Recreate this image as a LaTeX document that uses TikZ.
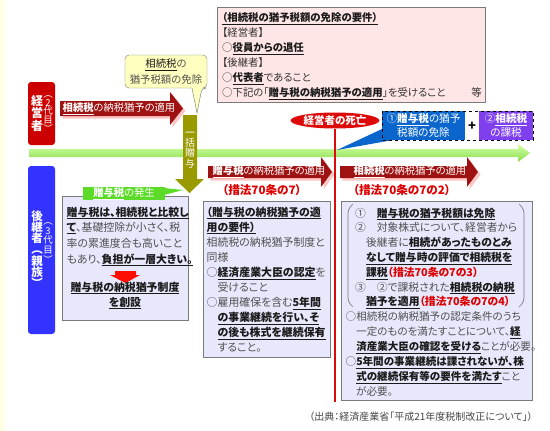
\documentclass[tikz,border=0pt]{standalone}
\usepackage{fontspec}
\setmainfont{Noto Sans CJK JP}[CharacterWidth=AlternateProportional]
\usetikzlibrary{shapes.geometric}
\definecolor{stripyellow}{HTML}{FFFFE4}
\definecolor{txtgray}{HTML}{505050}
\definecolor{darktxt}{HTML}{333333}
\definecolor{keyblack}{HTML}{1A1A1A}
\definecolor{boxlav}{HTML}{E8E8FC}
\definecolor{boxedge}{HTML}{7A7A7A}
\definecolor{pinkbox}{HTML}{FFE6E6}
\definecolor{calloutyellow}{HTML}{FFFFC0}
\definecolor{bossred}{HTML}{CC0000}
\definecolor{heirblue}{HTML}{3333FF}
\definecolor{bandred}{HTML}{9E1212}
\definecolor{shadowpink}{HTML}{FFC4C4}
\definecolor{lumpolive}{HTML}{999900}
\definecolor{axislight}{HTML}{D4FFA8}
\definecolor{axisgreen}{HTML}{88DD4C}
\definecolor{taggreen}{HTML}{5CDC28}
\definecolor{exemptblue}{HTML}{0A66CC}
\definecolor{taxpurple}{HTML}{7F3FEF}
\definecolor{deathred}{HTML}{DD0A0A}
\definecolor{notered}{HTML}{DD0000}
\definecolor{srcgray}{HTML}{444444}
\newcommand\keyt[1]{{\color{keyblack}\underline{\textbf{#1}}}}
\newcommand\keyw[1]{\underline{\textbf{#1}}}
\newcommand\uk[1]{{\color{keyblack}\underline{#1}}}
\newcommand\notered[1]{{\color{notered}\textbf{#1}}}
\begin{document}
\begin{tikzpicture}[x=1pt, y=-1pt,
    txt/.style={anchor=north west, inner sep=0pt, align=left, text=txtgray,
                font=\fontsize{10.9}{15.05}\selectfont},
    infobox/.style={draw=boxedge, fill=boxlav, line width=0.7pt},
    vtext/.style={inner sep=0pt, align=center, text=white,
                  execute at begin node={\lineskiplimit=-20pt}},
    bandtext/.style={text=white, inner sep=0pt, font=\fontsize{10.3}{12}\selectfont},
    lawnote/.style={text=notered, inner sep=0pt, font=\bfseries\fontsize{11.6}{13}\selectfont},
    whitetag/.style={text=white, inner sep=0pt, align=center}
  ]
  \useasboundingbox (0,0) rectangle (550,431);
  \fill[stripyellow] (0,0) rectangle (5,431);

  % requirements for the exemption
  \draw[draw=boxedge, fill=pinkbox, line width=0.7pt] (217,7) rectangle (485,102);
  \node[txt, text=darktxt, font=\fontsize{10.4}{15}\selectfont] (reqtext) at (222,12.8) {
    \keyt{（相続税の猶予税額の免除の要件）}\\
    【経営者】\\
    ○\keyt{役員からの退任}\\
    【後継者】\\
    ○\keyt{代表者}であること\\
    ○下記の「\keyt{贈与税の納税猶予の適用}」を受けること};
  \node[anchor=east, inner sep=0pt, text=darktxt, font=\fontsize{10.4}{15}\selectfont]
    (reqetc) at (482,93) {等};

  % callout over the lump-sum gift
  \draw[draw=boxedge, fill=calloutyellow, rounded corners=4pt]
    (125,55) -- (207,55) -- (207,88) -- (202,88) [sharp corners] -- (197,113)
    -- (192,88) [rounded corners=4pt] -- (125,88) -- cycle;
  \node[whitetag, text=txtgray, font=\fontsize{10.4}{15.5}\selectfont] (relief) at (166,71.5)
    {\uk{相続税}の\\猶予税額の免除};

  % side labels
  \fill[bossred, rounded corners=3pt] (28,82) rectangle (55,145);
  \fill[heirblue, rounded corners=3pt] (28,166) rectangle (55,334);
  \node[vtext, font=\bfseries\fontsize{12}{12.5}\selectfont] (bosslbl) at (37,113) {経\\営\\者};
  \node[vtext, font=\fontsize{9.5}{8.6}\selectfont] (bossgen) at (48,114) {︵\\2\\代\\目\\︶};
  \node[vtext, font=\bfseries\fontsize{11.5}{11.2}\selectfont] (heirlbl) at (37,249)
    {後\\継\\者\\︵\\親\\族\\︶};
  \node[vtext, font=\fontsize{9.5}{9.6}\selectfont] (heirgen) at (48,243) {︵\\3\\代\\目\\︶};

  % time axis
  \shade[top color=axislight, bottom color=axisgreen]
    (29,149) -- (518,149) -- (518,144) -- (530,153) -- (518,162) -- (518,157) -- (29,157) -- cycle;

  % band arrows with shadow
  \foreach \xa/\xb/\xt/\ym/\bh/\hh in {60/170/183/108.5/7.5/16.5, 208/321/332/172/6/15,
                                       340/467/478/172/6/15} {
    \foreach \dx/\col in {2.5/shadowpink, 0/bandred}
      \fill[\col, shift={(\dx,\dx)}] (\xa,\ym-\bh) -- (\xb,\ym-\bh) -- (\xb,\ym-\hh) -- (\xt,\ym)
        -- (\xb,\ym+\hh) -- (\xb,\ym+\bh) -- (\xa,\ym+\bh) -- cycle;
  }
  \node[bandtext] (band1) at (119,108.5) {\keyw{相続税}の納税猶予の適用};
  \node[bandtext] (band2) at (269,172) {\keyw{贈与税}の納税猶予の適用};
  \node[bandtext] (band3) at (410,172) {\keyw{相続税}の納税猶予の適用};
  \node[lawnote] (law7) at (262,190) {（措法70条の7）};
  \node[lawnote] (law72) at (402,190) {（措法70条の7の2）};

  % lump-sum gift
  \fill[lumpolive] (183,115) -- (197,115) -- (197,179) -- (204,179) -- (189.5,193)
    -- (175,179) -- (183,179) -- cycle;
  \node[vtext, font=\fontsize{10}{10.2}\selectfont] (lump) at (190,150) {一\\括\\贈\\与};

  % gift tax box
  \draw[infobox] (62,196) rectangle (188,320);
  \fill[taggreen] (83,187) rectangle (165,200);
  \fill[taggreen] (164,188) -- (183,190) -- (164,195) -- cycle;
  \node[whitetag, font=\fontsize{10.3}{12}\selectfont] (giftrise) at (124,193.5) {\keyw{贈与税}の発生};
  \node[txt, font=\fontsize{10.9}{15.7}\selectfont] (gifttext) at (66.5,206.5) {
    \keyt{贈与税は、相続税と比較し}\\
    \keyt{て}、基礎控除が小さく、税\\
    率の累進度合も高いこと\\
    もあり、\keyt{負担が一層大きい。}};
  \fill[red!90!orange] (115,271) -- (136,271) -- (136,275) -- (140,275) -- (125.5,283)
    -- (110,275) -- (115,275) -- cycle;
  \node[whitetag, text=keyblack, font=\fontsize{10.9}{15}\selectfont] (newsystem) at (125,295.5)
    {\keyt{贈与税の納税猶予制度}\\\keyt{を創設}};

  % gift tax deferral requirements
  \draw[infobox] (203,201) rectangle (330,357);
  \node[txt] (giftreq) at (206.5,206.5) {
    \keyt{（贈与税の納税猶予の適}\\
    \keyt{用の要件）}\\
    相続税の納税猶予制度と\\
    同様\\
    ○\keyt{経済産業大臣の認定}を\\
    \phantom{○}受けること\\
    ○雇用確保を含む\keyt{5年間}\\
    \phantom{○}\keyt{の事業継続を行い、そ}\\
    \phantom{○}\keyt{の後も株式を継続保有}\\
    \phantom{○}すること。};

  % death of the manager
  \node[ellipse, fill=deathred, minimum width=80pt, minimum height=16pt, inner sep=0pt,
        text=white, font=\bfseries\fontsize{10.5}{12}\selectfont] (death) at (335,120.5) {経営者の死亡};
  \coordinate (deathend) at (335,402);
  \draw[deathred, line width=2.8pt] (death.south) -- (deathend);
  \fill[exemptblue] (382,111) rectangle (465,140);
  \fill[exemptblue] (382,129) -- (337,150) -- (393,140) -- cycle;
  \fill[taxpurple] (479,111) rectangle (533,140);
  \draw[dashed, line width=0.8pt] (382,111) rectangle (533,140);
  \node[whitetag, font=\fontsize{10.6}{13.5}\selectfont] (exempt) at (423.5,125.5)
    {①\keyw{贈与税}の猶予\\税額の免除};
  \node[inner sep=0pt, font=\bfseries\fontsize{13}{13}\selectfont] (plus) at (472,126) {+};
  \node[whitetag, font=\fontsize{10.6}{13.5}\selectfont] (inhtax) at (506,125.5)
    {②\keyw{相続税}\\の課税};

  % inheritance tax deferral
  \draw[infobox] (341,201) rectangle (532,400);
  \draw[boxedge, line width=0.7pt, rounded corners=4pt] (353,204) -- (348,209) -- (348,302) -- (353,307);
  \draw[boxedge, line width=0.7pt, rounded corners=4pt] (519,204) -- (524,209) -- (524,302) -- (519,307);
  \node[txt, font=\fontsize{10.8}{14.83}\selectfont] (heiritems) at (355,207.5) {
    ①\hspace{1em}\keyt{贈与税の猶予税額は免除}\\
    ②\hspace{1em}対象株式について、経営者から\\
    \phantom{①}後継者に\keyt{相続があったものとみ}\\
    \phantom{①}\keyt{なして贈与時の評価で相続税を}\\
    \phantom{①}\keyt{課税}\notered{（措法70条の7の3）}\\
    ③\hspace{1em}②で課税された\keyt{相続税の納税}\\
    \phantom{①}\keyt{猶予を適用}\notered{（措法70条の7の4）}};
  \node[txt, font=\fontsize{10.55}{15}\selectfont] (heirnotes) at (345.5,311.7) {
    ○相続税の納税猶予の認定条件のうち\\
    \phantom{○}一定のものを満たすことについて、\keyt{経}\\
    \phantom{○}\keyt{済産業大臣の確認を受ける}ことが必要。\\
    ○\keyt{5年間の事業継続は課されないが、株}\\
    \phantom{○}\keyt{式の継続保有等の要件を満たす}こと\\
    \phantom{○}が必要。};

  \node[anchor=east, inner sep=0pt, text=srcgray, font=\fontsize{10}{11}\selectfont] (source)
    at (533,417) {（出典：経済産業省「平成21年度税制改正について」）};
\end{tikzpicture}
\end{document}
